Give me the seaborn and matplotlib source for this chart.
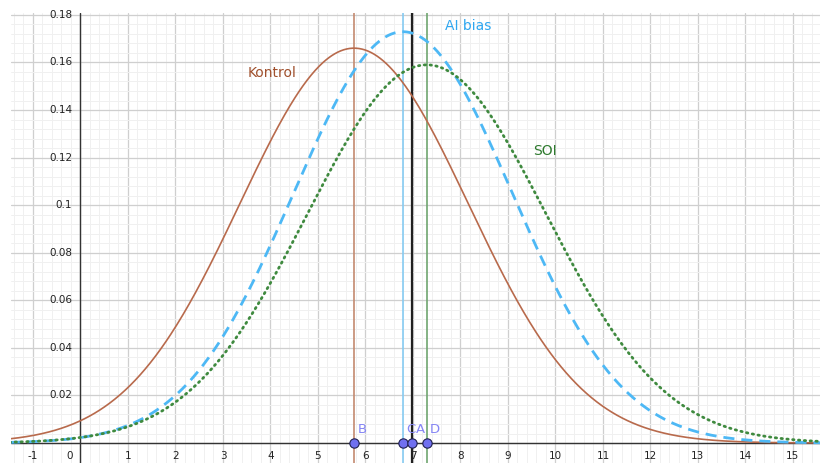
import numpy as np
import pandas as pd
import matplotlib
matplotlib.use('Agg')
import matplotlib.pyplot as plt
import seaborn as sns

# Parametros das curvas
nomes = ['Kontrol', 'AI bias', 'SOI']
medias = [5.76, 6.79, 7.29]
desvios = [2.403, 2.307, 2.509]

# Pontos sobre o eixo x
pontos_nome = ['B', 'C', 'A', 'D']
pontos_x = [5.76, 6.79, 6.98, 7.29]

x_ticks = [-1, 1, 2, 3, 4, 5, 6, 7, 8, 9, 10, 11, 12, 13, 14, 15]
y_ticks = [0.02, 0.04, 0.06, 0.08, 0.1, 0.12, 0.14, 0.16, 0.18]

cores = {'Kontrol': '#B86A4C', 'AI bias': '#4DB8F5', 'SOI': '#3F8A3F'}
cores_linha = {'B': '#C48A70', 'C': '#86CBF2', 'A': '#202020', 'D': '#6FA56F'}

# Preparacao dos dados
xs = np.linspace(-1.5, 15.6, 800)
linhas = []
for nome, m, s in zip(nomes, medias, desvios):
    y = np.exp(-0.5 * ((xs - m) / s) ** 2) / (s * np.sqrt(2 * np.pi))
    linhas.append(pd.DataFrame({'x': xs, 'y': y, 'curva': nome}))
df = pd.concat(linhas, ignore_index=True)

sns.set_style('white')
plt.rcParams['font.family'] = ['DejaVu Sans']
fig = plt.figure(figsize=(8.23, 4.63), dpi=100)
ax = fig.add_axes([11 / 823, 0, 809 / 823, 450 / 463])

# Grade
ax.set_xticks(np.arange(-1, 16, 1))
ax.set_xticks(np.arange(-1.4, 15.6, 0.2), minor=True)
ax.set_yticks(np.arange(0, 0.19, 0.02))
ax.set_yticks(np.arange(0, 0.19, 0.004), minor=True)
ax.grid(which='major', color='#CFCFCF', linewidth=0.9)
ax.grid(which='minor', color='#F0F0F0', linewidth=0.7)
ax.tick_params(which='both', length=0, labelbottom=False, labelleft=False)
for sp in ax.spines.values():
    sp.set_visible(False)

ax.axhline(0, color='#333333', linewidth=1.0, zorder=2)
ax.axvline(0, color='#333333', linewidth=1.0, zorder=2)

# Linhas verticais
for nome, px in zip(pontos_nome, pontos_x):
    lw = 1.6 if nome == 'A' else 1.2
    ax.axvline(px, color=cores_linha[nome], linewidth=lw, zorder=3)

# Curvas
sns.lineplot(data=df[df.curva == 'Kontrol'], x='x', y='y', color=cores['Kontrol'],
             linewidth=1.2, ax=ax, zorder=4)
sns.lineplot(data=df[df.curva == 'AI bias'], x='x', y='y', color=cores['AI bias'],
             linewidth=2.0, ax=ax, zorder=4, linestyle=(0, (4, 2.5)))
sns.lineplot(data=df[df.curva == 'SOI'], x='x', y='y', color=cores['SOI'],
             linewidth=2.0, ax=ax, zorder=4, linestyle=(0, (0.5, 1.6)),
             dash_capstyle='round')
ax.set_xlabel('')
ax.set_ylabel('')

# Limites depois dos ticks (set_xticks expande os limites)
ax.set_xlim(-1.463, 15.57)
ax.set_ylim(-0.0084, 0.1808)

# Rotulos dos eixos
for v in x_ticks:
    ax.annotate(str(v), xy=(v, 0), xytext=(0, -9), textcoords='offset points',
                ha='center', va='center', fontsize=7.5, color='#222222')
ax.annotate('0', xy=(0, 0), xytext=(-8, -9), textcoords='offset points',
            ha='center', va='center', fontsize=7.5, color='#222222')
for v in y_ticks:
    ax.annotate(f'{v:g}', xy=(0, v), xytext=(-6, 0), textcoords='offset points',
                ha='right', va='center', fontsize=7.5, color='#222222')

# Pontos
sns.scatterplot(x=pontos_x, y=[0] * len(pontos_x), s=45, color='#7070F0',
                edgecolor='#202050', linewidth=0.8, ax=ax, zorder=6, clip_on=False)
for nome, px in zip(pontos_nome, pontos_x):
    ax.annotate(nome, xy=(px, 0), xytext=(6, 10), textcoords='offset points',
                ha='center', va='center', fontsize=9.5, color='#8585F5')

# Nomes das curvas
ax.text(4.03, 0.1556, 'Kontrol', color='#A0502D', fontsize=10, ha='center', va='center')
ax.text(8.16, 0.1755, 'AI bias', color='#2EA6F0', fontsize=10, ha='center', va='center')
ax.text(9.78, 0.1226, 'SOI', color='#2E7A2E', fontsize=10, ha='center', va='center')

plt.savefig('out.png', dpi=100)
